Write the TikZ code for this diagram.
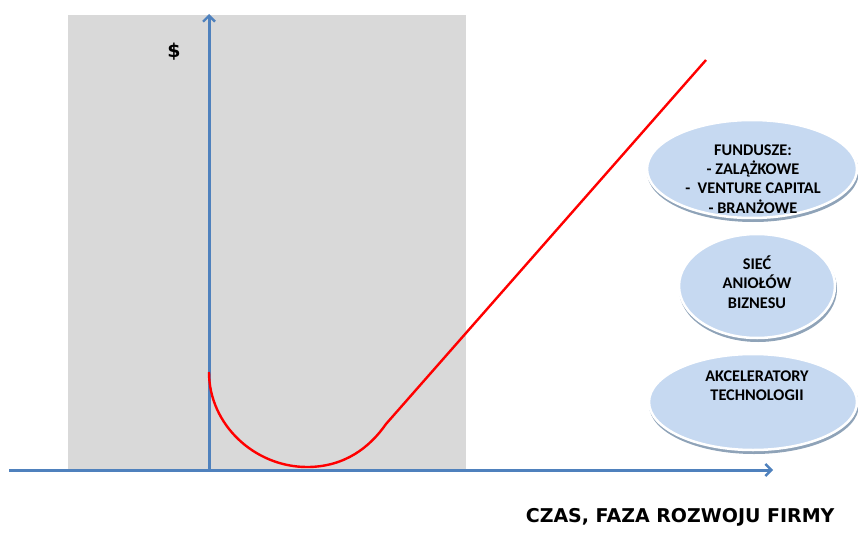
\documentclass[tikz,border=0pt]{standalone}
\usepackage{fontspec}
\setmainfont{Carlito}
\newfontfamily\verd{DejaVu Sans}
\usetikzlibrary{shapes.geometric,arrows.meta}
\definecolor{axisblue}{HTML}{4F81BD}
\definecolor{bgray}{HTML}{D9D9D9}
\definecolor{ellfill}{HTML}{C6D9F1}
\definecolor{ellshadow}{HTML}{8FA3B8}
\tikzset{
  axis/.style={draw=axisblue, line width=3pt, -{Straight Barb[length=6pt,width=12pt,line width=2.4pt]}},
  btext/.style={font=\bfseries\fontsize{16.3}{19.3}\selectfont, align=center},
  bubble/.style={ellipse, fill=ellfill, draw=white, line width=2.5pt, inner sep=0pt},
  bshadow/.style={ellipse, fill=ellshadow, draw=none, inner sep=0pt},
}
\begin{document}
\begin{tikzpicture}[x=1pt,y=-1pt]
\useasboundingbox (0,0) rectangle (858,532);
\fill[bgray] (68,15) rectangle (466,470);
% axes
\coordinate (o) at (209,470);
\coordinate (ytop) at (209,14);
\coordinate (xl) at (9,470);
\coordinate (xr) at (773,470);
\draw[axis] (xl) -- (xr);
\draw[axis] (o) -- (ytop);
\node[font=\verd\bfseries\fontsize{19}{22}\selectfont] (dol) at (174,52) {\$};
\node[font=\verd\bfseries\fontsize{19}{22}\selectfont, anchor=east] (czas) at (838,517) {CZAS, FAZA ROZWOJU FIRMY};
% red curve
\coordinate (c0) at (209,372);
\coordinate (c1) at (307,467);
\coordinate (c2) at (386,424);
\coordinate (c3) at (706,60);
\draw[red, line width=2.4pt] (c0) .. controls (209,425) and (255,467) .. (c1)
  .. controls (345,467) and (370,447) .. (c2) -- (c3);
% bubbles
\node[bshadow, minimum width=212pt, minimum height=100pt] at (753,172) {};
\node[bubble, minimum width=210pt, minimum height=98pt] (fund) at (752,169) {};
\node[btext] (fundt) at (753,179) {FUNDUSZE:\\- ZALĄŻKOWE\\-\ \ VENTURE CAPITAL\\- BRANŻOWE};
\node[bshadow, minimum width=158pt, minimum height=106pt] at (758,289) {};
\node[bubble, minimum width=156pt, minimum height=104pt] (siec) at (757,286) {};
\node[btext] (siect) at (757,282) {SIEĆ\\ANIOŁÓW\\BIZNESU};
\node[bshadow, minimum width=210pt, minimum height=98pt] at (754,405) {};
\node[bubble, minimum width=208pt, minimum height=96pt] (akc) at (753,402) {};
\node[btext] (akct) at (757,386) {AKCELERATORY\\TECHNOLOGII};
\end{tikzpicture}
\end{document}
